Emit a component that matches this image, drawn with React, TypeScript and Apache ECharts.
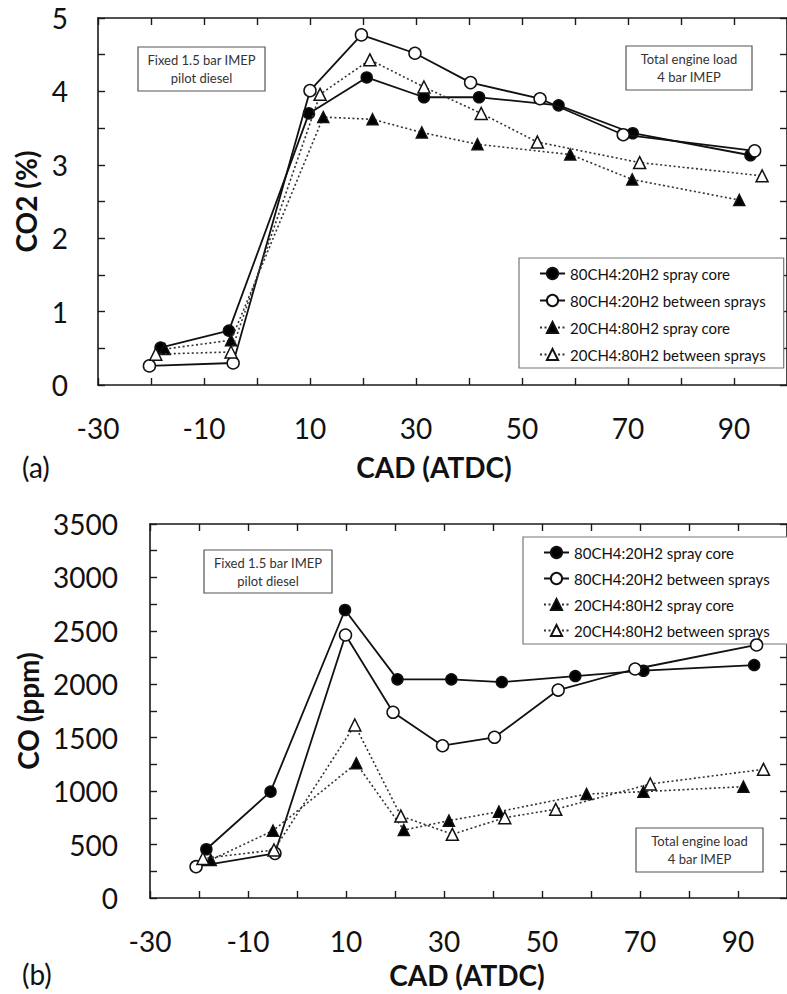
import React, { useEffect, useRef } from "react";
import * as echarts from "echarts";

const FONT = "Lato, 'Open Sans', sans-serif";

const seriesNames = [
  "80CH4:20H2 spray core",
  "80CH4:20H2 between sprays",
  "20CH4:80H2 spray core",
  "20CH4:80H2 between sprays",
];

// Panel (a): CO2 (%) against crank angle (CAD ATDC)
const co2Core8020: [number, number][] = [
  [-18.2, 0.51], [-5.3, 0.74], [9.8, 3.7], [20.7, 4.19], [31.5, 3.92],
  [41.9, 3.92], [56.9, 3.81], [70.9, 3.43], [93.1, 3.13],
];
const co2Between8020: [number, number][] = [
  [-20.3, 0.26], [-4.5, 0.3], [10, 4.01], [19.7, 4.77], [29.8, 4.52],
  [40.3, 4.12], [53.4, 3.9], [69.1, 3.41], [93.9, 3.19],
];
const co2Core2080: [number, number][] = [
  [-17.4, 0.49], [-4.9, 0.61], [12.5, 3.65], [21.8, 3.62], [31.1, 3.44],
  [41.6, 3.28], [59.1, 3.14], [70.8, 2.8], [91, 2.52],
];
const co2Between2080: [number, number][] = [
  [-19.1, 0.42], [-4.9, 0.45], [11.9, 3.96], [21.3, 4.43], [31.5, 4.06],
  [42.3, 3.7], [52.9, 3.31], [72.2, 3.03], [95.3, 2.85],
];

// Panel (b): CO (ppm) against crank angle
const coCore8020: [number, number][] = [
  [-18.5, 456], [-5.4, 995], [9.8, 2695], [20.5, 2046], [31.5, 2046],
  [41.8, 2021], [56.8, 2077], [70.7, 2127], [93.3, 2180],
];
const coBetween8020: [number, number][] = [
  [-20.6, 293], [-4.5, 418], [9.9, 2461], [19.6, 1738], [29.7, 1425],
  [40.3, 1504], [53.3, 1946], [69, 2143], [93.8, 2368],
];
const coCore2080: [number, number][] = [
  [-17.6, 356], [-4.9, 630], [12.1, 1260], [21.8, 636], [31, 724],
  [41.2, 808], [59.1, 973], [70.7, 995], [91.1, 1042],
];
const coBetween2080: [number, number][] = [
  [-19.2, 370], [-4.7, 449], [11.8, 1619], [21.2, 767], [31.7, 596],
  [42.4, 752], [52.8, 830], [72.1, 1067], [95.2, 1204],
];

const cadMin = -30;
const cadMax = 100;
const cadStep = 10;

const INK = "#1a1a1a";

const frameLine = { show: true, onZero: false, lineStyle: { color: INK, width: 1.6 } };
const innerTick = { show: true, inside: true, length: 7, lineStyle: { color: INK, width: 1.4 } };

function cadAxes(gridIndex: number) {
  const base = {
    type: "value",
    gridIndex,
    min: cadMin,
    max: cadMax,
    interval: cadStep,
    axisLine: frameLine,
    axisTick: innerTick,
    splitLine: { show: false },
  };
  return [
    {
      ...base,
      position: "bottom",
      axisLabel: {
        margin: 31,
        fontSize: 28,
        lineHeight: 24,
        fontFamily: FONT,
        color: "#111",
        showMaxLabel: false,
        formatter: (v: number) =>
          (v - cadMin) % 20 === 0 && v < cadMax ? String(v) : "",
      },
    },
    { ...base, position: "top", axisLabel: { show: false } },
  ];
}

function valueAxes(
  gridIndex: number,
  max: number,
  step: number,
  labelStep: number,
  name: string,
  nameGap: number,
  labelMargin: number
) {
  const base = {
    type: "value",
    gridIndex,
    min: 0,
    max,
    interval: step,
    axisLine: frameLine,
    axisTick: innerTick,
    splitLine: { show: false },
  };
  return [
    {
      ...base,
      position: "left",
      name,
      nameLocation: "middle",
      nameGap,
      nameTextStyle: { fontSize: 28, fontWeight: "bold", fontFamily: FONT, color: "#111" },
      axisLabel: {
        margin: labelMargin,
        fontSize: 28,
        lineHeight: 26,
        fontFamily: FONT,
        color: "#111",
        formatter: (v: number) => {
          const r = v / labelStep;
          return Math.abs(r - Math.round(r)) < 1e-6 ? String(Math.round(v)) : "";
        },
      },
    },
    { ...base, position: "right", axisLabel: { show: false } },
  ];
}

const styles = [
  { symbol: "circle", size: 11, fill: "#000", line: "solid" as any, width: 1.8 },
  { symbol: "circle", size: 12, fill: "#fff", line: "solid" as any, width: 1.8 },
  { symbol: "triangle", size: 11, fill: "#000", line: [2, 2.5], width: 1.6 },
  { symbol: "triangle", size: 12, fill: "#fff", line: [2, 2.5], width: 1.6 },
];

function makeSeries(datasets: [number, number][][], axisIndex: number) {
  return datasets.map((data, i) => {
    const s = styles[i];
    return {
      type: "line",
      name: seriesNames[i],
      xAxisIndex: axisIndex,
      yAxisIndex: axisIndex,
      data,
      symbol: s.symbol,
      symbolSize: s.size,
      showAllSymbol: true,
      lineStyle: { color: i < 2 ? "#111" : "#333", width: s.width, type: s.line },
      itemStyle: { color: s.fill, borderColor: "#111", borderWidth: 1.5 },
      emphasis: { disabled: true },
      z: 3 + i,
    };
  });
}

function noteBox(cx: number, cy: number, w: number, h: number, text: string) {
  return {
    type: "group",
    children: [
      {
        type: "rect",
        shape: { x: cx - w / 2, y: cy - h / 2, width: w, height: h },
        style: { fill: "#fff", stroke: "#555", lineWidth: 1.2 },
      },
      {
        type: "text",
        x: cx,
        y: cy,
        style: {
          text,
          fill: "#333",
          fontSize: 13,
          fontFamily: FONT,
          align: "center",
          verticalAlign: "middle",
          lineHeight: 18,
        },
      },
    ],
  };
}

function legendFor(left: number, top: number, gap: number) {
  return {
    orient: "vertical",
    left,
    top,
    padding: [8, 18, 6, 20],
    itemGap: gap,
    itemWidth: 25,
    itemHeight: 14,
    borderColor: "#777",
    borderWidth: 1.2,
    backgroundColor: "#fff",
    selectedMode: false,
    textStyle: { fontSize: 15, fontFamily: FONT, color: "#111" },
    data: seriesNames,
  };
}

export default function App() {
  const ref = useRef<HTMLDivElement>(null);

  useEffect(() => {
    if (!ref.current) return;
    const chart = echarts.init(ref.current, undefined, { renderer: "svg" });

    const labelText = (x: number, y: number, text: string, bold: boolean, align = "center") => ({
      type: "text",
      x,
      y,
      style: {
        text,
        fill: "#111",
        fontSize: 28,
        lineHeight: 24,
        fontWeight: bold ? "bold" : "normal",
        fontFamily: FONT,
        align,
        verticalAlign: "middle",
      },
    });

    chart.setOption({
      animation: false,
      backgroundColor: "#fff",
      grid: [
        { left: 98, top: 18, width: 700, height: 367 },
        { left: 150, top: 524, width: 648, height: 374 },
      ],
      xAxis: [...cadAxes(0), ...cadAxes(1)],
      yAxis: [
        ...valueAxes(0, 5, 0.5, 1, "CO2 (%)", 58, 30),
        ...valueAxes(1, 3500, 250, 500, "CO (ppm)", 108, 32),
      ],
      legend: [legendFor(519, 258, 12), legendFor(523, 537, 11)],
      series: [
        ...makeSeries([co2Core8020, co2Between8020, co2Core2080, co2Between2080], 0),
        ...makeSeries([coCore8020, coBetween8020, coCore2080, coBetween2080], 2),
      ],
      graphic: [
        noteBox(201.5, 69, 127, 44, "Fixed 1.5 bar IMEP\npilot diesel"),
        noteBox(689, 68, 126, 44, "Total engine load\n4 bar IMEP"),
        noteBox(268, 571.5, 128, 43, "Fixed 1.5 bar IMEP\npilot diesel"),
        noteBox(699.5, 850, 127, 44, "Total engine load\n4 bar IMEP"),
        labelText(22, 467, "(a)", false, "left"),
        labelText(434, 467, "CAD (ATDC)", true),
        labelText(22, 974, "(b)", false, "left"),
        labelText(467, 975, "CAD (ATDC)", true),
      ],
    });

    return () => chart.dispose();
  }, []);

  return (
    <div
      ref={ref}
      style={{ position: "absolute", left: 0, top: 0, width: 787, height: 994 }}
    />
  );
}
